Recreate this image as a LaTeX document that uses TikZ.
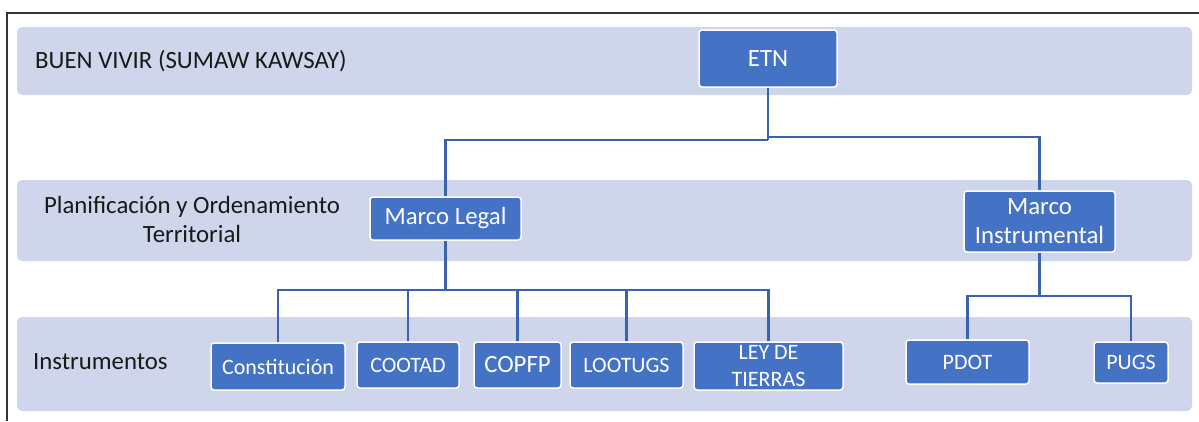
\documentclass[tikz,border=0pt]{standalone}
\usepackage{fontspec}
\setmainfont{Carlito}
\definecolor{bandc}{HTML}{CFD5EA}
\definecolor{boxc}{HTML}{4472C4}
\definecolor{connc}{HTML}{3A63AD}
\begin{document}
\begin{tikzpicture}[x=1pt,y=-1pt,
  band/.style={fill=bandc, rounded corners=5pt},
  box/.style={fill=boxc, draw=white, line width=1.5pt, rounded corners=3pt, text=white, inner sep=0pt, align=center},
  big/.style={font=\fontsize{24.8}{29}\selectfont},
  small/.style={font=\fontsize{22}{27}\selectfont},
  conn/.style={draw=connc, line width=2.4pt},
  lbl/.style={text=black!90, inner sep=0pt, big}]
\useasboundingbox (0,0) rectangle (1199,421);
% frame
\draw[line width=1.5pt, black!80] (7,421) -- (7,13) -- (1199,13);
% bands
\path[band] (17,27) rectangle (1192,95);
\path[band] (17,180) rectangle (1192,261);
\path[band] (17,317) rectangle (1192,411);
% labels
\node[lbl, anchor=west] (l1) at (35,61) {BUEN VIVIR (SUMAW KAWSAY)};
\node[lbl, align=center] (l2) at (192,219) {Planificación y Ordenamiento\\Territorial};
\node[lbl, anchor=west] (l3) at (33,362) {Instrumentos};
% bus points
\coordinate (b1) at (768,140);
\coordinate (b1r) at (768,137);
\coordinate (b2) at (446,290);
\coordinate (b3) at (1040,296);
% boxes
\node[box,big,minimum width=138pt,minimum height=57pt] (etn) at (768,58.5) {ETN};
\node[box,big,minimum width=151pt,minimum height=43pt] (ml) at (445.5,218.5) {Marco Legal};
\node[box,big,minimum width=151pt,minimum height=61pt] (mi) at (1039.5,221.5) {Marco\\Instrumental};
\node[box,small,minimum width=134pt,minimum height=47pt] (c1) at (278,366.5) {Constitución};
\node[box,small,minimum width=102pt,minimum height=46pt] (c2) at (408,365) {COOTAD};
\node[box,big,minimum width=87pt,minimum height=46pt] (c3) at (517.5,365) {COPFP};
\node[box,small,minimum width=113pt,minimum height=46pt] (c4) at (626.5,365) {LOOTUGS};
\node[box,small,minimum width=149pt,minimum height=48pt] (c5) at (768.5,366) {LEY DE\\TIERRAS};
\node[box,small,minimum width=123pt,minimum height=44pt] (p1) at (967.5,362) {PDOT};
\node[box,small,minimum width=74pt,minimum height=41pt] (p2) at (1131,362.5) {PUGS};
% connectors
\draw[conn] (etn.south) -- (b1);
\draw[conn] (b1) -| (ml.north);
\draw[conn] (b1r) -| (mi.north);
\draw[conn] (ml.south) -- (ml.south |- b2);
\foreach \n in {c1,c2,c3,c4,c5} \draw[conn] (ml.south |- b2) -| (\n.north);
\draw[conn] (mi.south) -- (mi.south |- b3);
\foreach \n in {p1,p2} \draw[conn] (mi.south |- b3) -| (\n.north);
\end{tikzpicture}
\end{document}
